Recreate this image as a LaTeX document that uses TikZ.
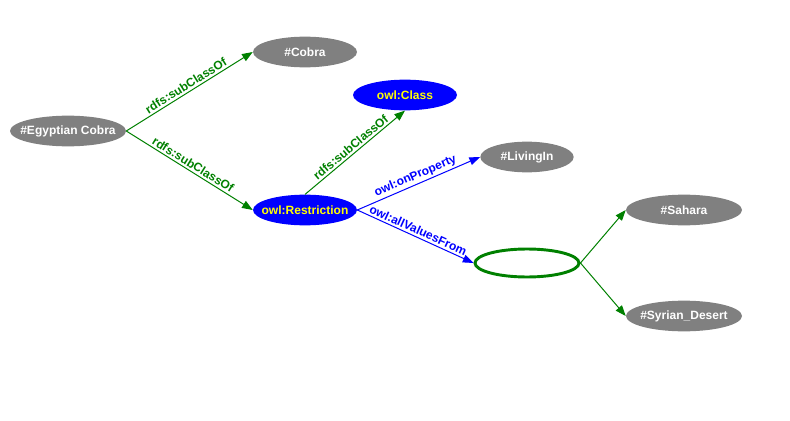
\documentclass[tikz,border=0pt]{standalone}
\usepackage{fontspec}
\setmainfont{Liberation Sans}
\usetikzlibrary{positioning,arrows.meta,shapes.geometric}
\definecolor{rdfGreen}{RGB}{0,128,0}
\definecolor{owlBlue}{RGB}{0,0,255}
\definecolor{resGray}{RGB}{128,128,128}
\definecolor{owlYellow}{RGB}{255,255,0}
\tikzset{
    base/.style={font=\fontsize{9}{10}\selectfont\bfseries, align=center},
    resource/.style={base, ellipse, fill=resGray, text=white, inner xsep=-5pt,
                     inner ysep=0pt, minimum height=23pt},
    owlterm/.style={base, ellipse, fill=owlBlue, text=owlYellow, inner xsep=-5.5pt,
                    inner ysep=0pt, minimum width=78pt, minimum height=23pt},
    blank/.style={ellipse, draw=rdfGreen, line width=2.2pt, fill=white,
                  minimum width=78pt, minimum height=21pt},
    subclass/.style={-{Triangle[length=8pt,width=6pt]}, rdfGreen, line width=0.75pt},
    owlprop/.style={-{Triangle[length=8pt,width=6pt]}, owlBlue, line width=0.75pt},
    edgelabel/.style={base, sloped, above, inner sep=1.5pt}
}
\begin{document}
\begin{tikzpicture}[x=0.75pt, y=-0.75pt]
  \useasboundingbox (0,0) rectangle (790,421);

  % classes and resources
  \node[resource, minimum width=87pt] (egypt) at (68,131) {\#Egyptian Cobra};
  \node[resource, minimum width=78pt] (cobra) at (305,52) {\#Cobra};
  \node[owlterm] (owlclass) at (405,95) {owl:Class};
  \node[owlterm] (restr) at (305,210) {owl:Restriction};
  \node[resource, minimum width=70pt] (living) at (527,157) {\#LivingIn};
  \node[blank] (anon) at (527,263) {};
  \node[resource, minimum width=87pt] (sahara) at (684,210) {\#Sahara};
  \node[resource, minimum width=87pt] (syrian) at (684,316) {\#Syrian\_Desert};

  % subclass links
  \draw[subclass] (egypt.east) -- node[edgelabel, text=rdfGreen] {rdfs:subClassOf} (cobra.west);
  \draw[subclass] (egypt.east) -- node[edgelabel, text=rdfGreen] {rdfs:subClassOf} (restr.west);
  \draw[subclass] (restr.north) -- node[edgelabel, text=rdfGreen] {rdfs:subClassOf} (owlclass.south);

  % restriction properties
  \draw[owlprop] (restr.east) -- node[edgelabel, text=owlBlue] {owl:onProperty} (living.west);
  \draw[owlprop] (restr.east) -- node[edgelabel, text=owlBlue] {owl:allValuesFrom} (anon.west);

  % members of the union
  \draw[subclass] (anon.east) -- (sahara.west);
  \draw[subclass] (anon.east) -- (syrian.west);
\end{tikzpicture}
\end{document}
